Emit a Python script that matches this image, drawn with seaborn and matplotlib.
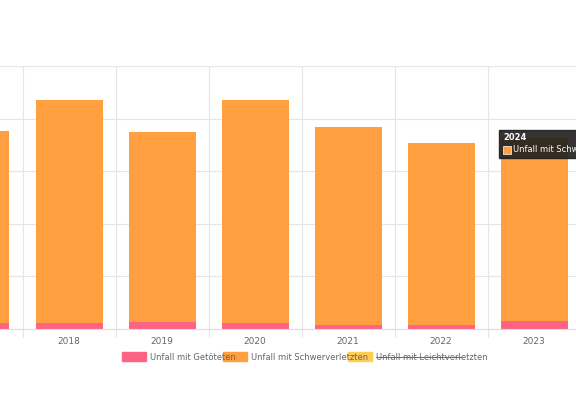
import numpy as np
import pandas as pd
import matplotlib
matplotlib.use("Agg")
import matplotlib.pyplot as plt
from matplotlib.patches import Rectangle
import seaborn as sns

YEARS = ["2017", "2018", "2019", "2020", "2021", "2022", "2023"]
GETOETET = [11, 11, 13, 11, 8, 8, 15]
SCHWER_TOTAL = [376, 435, 374, 435, 385, 353, 364]
SCHWER = [t - g for t, g in zip(SCHWER_TOTAL, GETOETET)]

PINK = "#ff6384"
ORANGE = "#ff9f40"
YELLOW = "#ffcd56"

sns.set_style("white")
plt.rcParams["font.family"] = ["DejaVu Sans"]

fig = plt.figure(figsize=(5.76, 4.18), dpi=100)
ax = fig.add_axes([0, 0.213, 1, 0.629])

df = pd.DataFrame({"year": YEARS, "g": GETOETET, "s": SCHWER})
x = np.arange(len(YEARS))
ax.bar(x, df["g"], width=0.72, color=PINK, lw=0, zorder=2)
ax.bar(x, df["s"], bottom=df["g"], width=0.72, color=ORANGE, lw=0, zorder=2)

ax.set_yticks(np.arange(0, 501, 100))
ax.set_yticklabels([])
ax.tick_params(axis="y", length=0)
ax.set_xticks(x)
ax.set_xticklabels(YEARS, color="#666666", fontsize=6.5)
ax.tick_params(axis="x", length=0, pad=6)
ax.set_xlim(0.258, 6.45)
ax.set_ylim(0, 500)
for b in np.arange(-0.5, 7, 1):
    ax.axvline(b, color="#e6e6e6", lw=0.8, zorder=0, ymin=-0.03, clip_on=False)
ax.grid(axis="y", color="#e6e6e6", lw=0.8, zorder=0)
for s in ["top", "left", "right"]:
    ax.spines[s].set_visible(False)
ax.spines["bottom"].set_color("#dddddd")

# legend
ly = 1 - 357 / 418
items = [(122, PINK, "Unfall mit Getöteten", False),
         (223, ORANGE, "Unfall mit Schwerverletzten", False),
         (348, YELLOW, "Unfall mit Leichtverletzten", True)]
for px, col, lab, strike in items:
    fig.patches.append(Rectangle((px / 576, ly - 0.009), 24 / 576, 0.02,
                                 color=col, transform=fig.transFigure))
    fig.text((px + 28) / 576, ly, lab, fontsize=6, color="#666666", va="center")
    if strike:
        fig.lines.append(plt.Line2D([(px + 28) / 576, (px + 28 + 86) / 576], [ly, ly],
                                    color="#666666", lw=0.7, transform=fig.transFigure))

# tooltip (cut off at the right edge, as in the reference)
fig.patches.append(Rectangle((499 / 576, 1 - 158 / 418), 80 / 576, 28 / 418,
                             color="#1e1e1e", alpha=0.9, transform=fig.transFigure))
fig.text(503 / 576, 1 - 137 / 418, "2024", fontsize=6, color="white", weight="bold", va="center")
fig.patches.append(Rectangle((503 / 576, 1 - 154 / 418), 8 / 576, 8 / 418,
                             facecolor=ORANGE, edgecolor="white", lw=0.5, transform=fig.transFigure))
fig.text(513 / 576, 1 - 150 / 418, "Unfall mit Schwerverletzten", fontsize=6, color="white", va="center")

fig.savefig("out.png", dpi=100)
